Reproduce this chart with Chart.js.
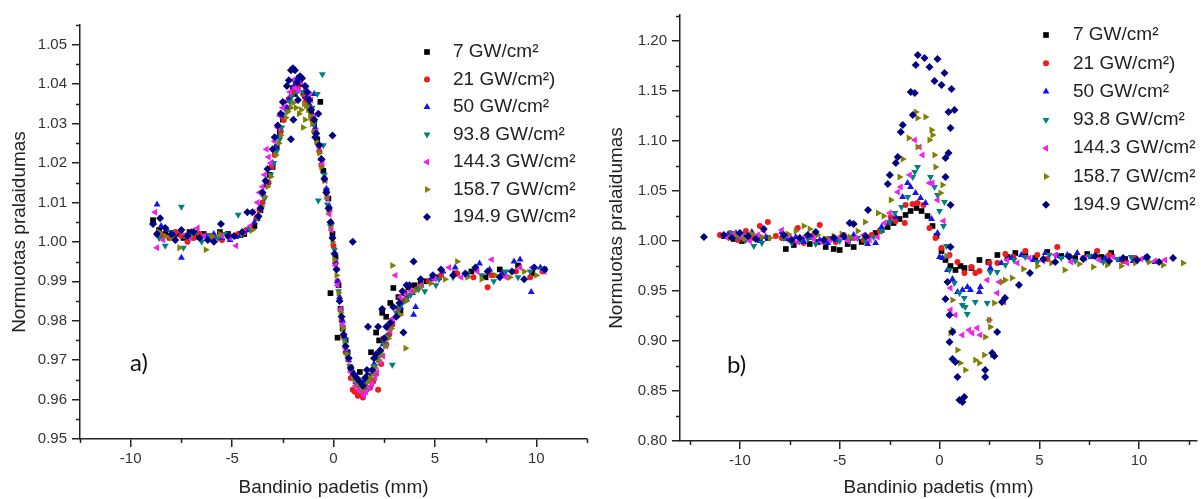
<!DOCTYPE html>
<html>
<head>
<meta charset="utf-8">
<script src="https://cdn.jsdelivr.net/npm/chart.js@4.4.0/dist/chart.umd.min.js"></script>
<style>
html, body { margin: 0; padding: 0; background: #fff; overflow: hidden; }
#wrapA { position: absolute; left: 0; top: 0; width: 600px; height: 499px; }
#wrapB { position: absolute; left: 600px; top: 0; width: 601px; height: 499px; }
</style>
</head>
<body>
<div id="wrapA"><canvas id="chartA" width="600" height="499"></canvas></div>
<div id="wrapB"><canvas id="chartB" width="601" height="499"></canvas></div>
<script>
// serijos (intensyvumai)
const seriesLabels = ['7 GW/cm²', '21 GW/cm²)', '50 GW/cm²', '93.8 GW/cm²', '144.3 GW/cm²', '158.7 GW/cm²', '194.9 GW/cm²'];
const seriesColors = ['#000000', '#ee1c1c', '#1414f0', '#008080', '#f020f0', '#808000', '#000080'];
const seriesShapes = ['rect', 'circle', 'triangle', 'triangle', 'triangle', 'triangle', 'rectRot'];
const seriesRotation = [0, 0, 0, 180, 270, 90, 0];
const seriesRadius = [4, 3, 4, 4, 4, 4, 4];

// asiu padalos
const xTicks = [-10, -5, 0, 5, 10];
const xMinor = [-12.5, -7.5, -2.5, 2.5, 7.5, 12.5];
const yTicksA = [0.95, 0.96, 0.97, 0.98, 0.99, 1.00, 1.01, 1.02, 1.03, 1.04, 1.05];
const yMinorA = [0.955, 0.965, 0.975, 0.985, 0.995, 1.005, 1.015, 1.025, 1.035, 1.045, 1.055];
const yTicksB = [0.80, 0.85, 0.90, 0.95, 1.00, 1.05, 1.10, 1.15, 1.20];
const yMinorB = [0.825, 0.875, 0.925, 0.975, 1.025, 1.075, 1.125, 1.175, 1.225];

// a) grafikas
const a7 = [[-8.9,1.0055],[-8.6,1.003],[-8.3,1.002],[-8.0,1.0015],[-7.7,1.002],[-7.4,1.001],[-7.1,1.0025],[-6.8,1.0015],[-6.4,1.002],[-6.0,1.0015],[-5.6,1.0025],[-5.2,1.002],[-4.8,1.0015],[-4.4,1.002],[-3.9,1.004],[-3.75,1.006],[-3.6,1.008],[-3.3,1.0145],[-3.15,1.017],[-3.0,1.019],[-2.8,1.024],[-2.65,1.028],[-2.5,1.031],[-2.2,1.036],[-2.0,1.039],[-1.9,1.0375],[-1.7,1.040],[-1.4,1.037],[-1.25,1.036],[-1.1,1.033],[-0.95,1.030],[-0.65,1.0355],[-0.8,1.026],[-0.5,1.018],[-0.35,1.013],[-0.25,1.011],[-0.15,0.987],[-0.05,1.002],[0.1,0.996],[0.2,0.9757],[0.25,0.989],[0.35,0.983],[0.45,0.978],[0.6,0.975],[0.7,0.972],[0.85,0.968],[1.0,0.966],[1.15,0.964],[1.3,0.967],[1.55,0.964],[1.7,0.966],[1.85,0.972],[2.1,0.977],[2.25,0.975],[2.4,0.982],[2.6,0.981],[2.8,0.9845],[2.95,0.9883],[3.2,0.986],[3.3,0.9825],[3.5,0.987],[3.7,0.9885],[4.0,0.989],[4.3,0.9895],[4.6,0.990],[5.2,0.991],[6.0,0.992],[6.8,0.9925],[7.5,0.991],[8.2,0.993],[9.1,0.994],[9.8,0.992],[10.4,0.993]];
const a21 = [[-8.7,1.002],[-8.4,1.0015],[-8.1,1.001],[-7.8,1.0025],[-7.5,1.0015],[-7.2,1.000],[-6.9,1.001],[-6.6,1.002],[-6.2,1.0015],[-5.9,1.001],[-5.5,1.0005],[-5.1,1.0015],[-4.7,1.002],[-4.3,1.003],[-3.8,1.006],[-3.65,1.008],[-3.5,1.010],[-3.2,1.015],[-3.05,1.019],[-2.9,1.022],[-2.6,1.028],[-2.45,1.031],[-2.3,1.034],[-2.15,1.0365],[-2.0,1.038],[-1.75,1.039],[-1.5,1.0375],[-1.35,1.036],[-1.2,1.034],[-1.05,1.031],[-0.95,1.028],[-0.7,1.023],[-0.6,1.0195],[-0.45,1.016],[-0.35,1.0125],[-0.2,1.008],[0.0,0.999],[0.1,0.9945],[0.2,0.990],[0.4,0.980],[0.5,0.976],[0.6,0.972],[0.85,0.9655],[0.95,0.9625],[1.05,0.962],[1.2,0.961],[1.3,0.9615],[1.45,0.9605],[1.55,0.962],[1.8,0.963],[1.95,0.9645],[2.1,0.9665],[2.2,0.9625],[2.35,0.969],[2.45,0.9755],[2.6,0.974],[2.75,0.9765],[2.9,0.979],[3.2,0.983],[3.4,0.985],[3.6,0.986],[4.1,0.988],[4.7,0.990],[5.3,0.9915],[6.1,0.992],[6.9,0.991],[7.6,0.9885],[7.8,0.9915],[8.4,0.992],[9.0,0.9925],[9.7,0.991],[10.3,0.9925]];
const a50 = [[-8.7,1.0095],[-8.5,1.004],[-8.2,1.003],[-7.9,1.002],[-7.5,0.996],[-7.3,1.0015],[-7.0,1.0025],[-6.6,1.001],[-6.3,1.0015],[-5.9,1.002],[-5.5,1.001],[-5.1,1.0005],[-4.6,1.0015],[-4.2,1.003],[-3.9,1.005],[-3.6,1.009],[-3.45,1.012],[-3.3,1.015],[-3.0,1.020],[-2.85,1.024],[-2.7,1.027],[-2.45,1.032],[-2.3,1.034],[-2.2,1.036],[-1.95,1.0395],[-1.8,1.0415],[-1.7,1.0405],[-1.45,1.038],[-1.3,1.0365],[-1.2,1.035],[-1.05,1.032],[-0.95,1.0375],[-0.9,1.029],[-0.75,1.025],[-0.6,1.021],[-0.35,1.0135],[-0.2,1.009],[-0.1,1.005],[0.1,0.995],[0.2,0.990],[0.3,0.986],[0.45,0.980],[0.55,0.976],[0.65,0.9725],[0.75,0.970],[1.0,0.9655],[1.1,0.9645],[1.25,0.9635],[1.5,0.9645],[1.6,0.9625],[1.75,0.966],[2.0,0.969],[2.15,0.9705],[2.3,0.972],[2.45,0.974],[2.6,0.976],[2.75,0.978],[2.9,0.980],[3.3,0.9835],[3.6,0.9855],[3.95,0.9815],[4.05,0.9835],[3.9,0.987],[4.3,0.989],[4.8,0.9905],[5.4,0.9925],[6.0,0.9935],[6.6,0.9915],[7.2,0.9945],[7.7,0.993],[8.3,0.992],[8.9,0.995],[9.2,0.9955],[9.75,0.9873],[10.2,0.9935]];
const a93 = [[-8.6,1.001],[-8.3,0.999],[-8.0,1.0025],[-7.5,1.0089],[-7.4,0.9985],[-7.1,1.001],[-6.8,1.0025],[-6.5,1.000],[-6.1,1.0015],[-5.7,1.001],[-5.3,1.002],[-4.9,1.0015],[-4.7,1.0069],[-4.1,1.003],[-3.7,1.006],[-3.55,1.0085],[-3.4,1.011],[-3.1,1.017],[-2.95,1.020],[-2.8,1.023],[-2.65,1.026],[-2.55,1.029],[-2.3,1.033],[-2.15,1.0355],[-2.05,1.037],[-1.8,1.038],[-1.5,1.038],[-1.35,1.039],[-1.2,1.0375],[-1.05,1.034],[-0.8,1.0375],[-0.55,1.0425],[-0.95,1.030],[-0.7,1.0245],[-0.5,1.0245],[-0.55,1.0205],[-0.45,1.017],[-0.75,1.0105],[-0.3,1.0095],[-0.15,1.004],[0.05,0.998],[0.15,0.993],[0.25,0.9875],[0.35,0.9825],[0.45,0.9785],[0.55,0.975],[0.65,0.9715],[0.8,0.9685],[0.9,0.967],[1.05,0.9655],[1.15,0.964],[1.3,0.9635],[1.4,0.963],[1.55,0.964],[1.7,0.965],[1.95,0.967],[2.05,0.9685],[2.2,0.9705],[2.35,0.972],[2.5,0.974],[2.65,0.976],[2.9,0.9688],[2.8,0.978],[3.1,0.982],[3.25,0.9835],[3.4,0.9845],[3.6,0.9855],[3.8,0.9865],[4.2,0.988],[4.5,0.9875],[5.05,0.989],[5.2,0.9905],[5.9,0.991],[6.6,0.992],[7.3,0.9915],[7.9,0.990],[8.5,0.9925],[9.1,0.991],[9.7,0.9925],[10.3,0.993]];
const a144 = [[-8.8,1.0075],[-8.7,0.9985],[-8.4,1.0005],[-8.1,1.0015],[-7.8,1.0005],[-7.5,1.0025],[-7.1,1.001],[-6.7,1.0035],[-6.4,1.0015],[-6.0,1.001],[-5.5,1.0015],[-5.1,1.001],[-4.8,0.999],[-4.4,1.0025],[-4.1,1.004],[-3.95,1.0075],[-3.75,1.010],[-3.65,1.0125],[-3.5,1.014],[-3.4,1.017],[-3.3,1.0235],[-3.2,1.0215],[-3.1,1.020],[-2.9,1.0255],[-2.75,1.029],[-2.65,1.032],[-2.5,1.034],[-2.4,1.0355],[-2.15,1.038],[-2.0,1.041],[-1.9,1.039],[-1.75,1.0385],[-1.6,1.0405],[-1.35,1.039],[-1.2,1.0375],[-1.1,1.036],[-0.95,1.032],[-0.85,1.028],[-0.7,1.024],[-0.55,1.020],[-0.4,1.0155],[-0.3,1.011],[-0.2,1.007],[-0.1,1.003],[0.1,0.994],[0.2,0.989],[0.35,0.983],[0.45,0.979],[0.6,0.973],[0.75,0.970],[0.85,0.967],[1.0,0.965],[1.1,0.9635],[1.25,0.9625],[1.35,0.962],[1.5,0.961],[1.6,0.962],[1.75,0.963],[1.9,0.964],[2.05,0.9655],[2.15,0.967],[2.3,0.9695],[2.45,0.971],[2.6,0.9735],[2.8,0.9775],[2.9,0.9805],[3.05,0.9915],[3.3,0.986],[3.5,0.987],[3.8,0.9875],[4.3,0.989],[5.0,0.9905],[5.7,0.9935],[6.3,0.991],[7.1,0.9925],[7.8,0.9955],[8.5,0.991],[9.2,0.9935],[9.8,0.9935],[10.4,0.9925]];
const a158 = [[-8.6,1.0025],[-8.3,1.0015],[-8.0,1.001],[-7.6,0.9985],[-7.3,1.0015],[-6.9,1.002],[-6.3,0.998],[-6.0,1.0015],[-5.6,1.002],[-5.2,1.0015],[-4.5,1.002],[-4.0,1.003],[-3.7,1.0065],[-3.55,1.009],[-3.4,1.0115],[-3.25,1.014],[-3.1,1.0165],[-2.85,1.022],[-2.7,1.025],[-2.6,1.027],[-2.35,1.0315],[-2.25,1.033],[-2.1,1.034],[-1.98,1.0353],[-1.85,1.034],[-1.7,1.0325],[-1.6,1.0335],[-1.5,1.029],[-1.45,1.035],[-1.4,1.031],[-1.35,1.0345],[-1.25,1.0335],[-1.15,1.032],[-1.05,1.030],[-0.95,1.028],[-0.85,1.0255],[-0.7,1.0225],[-0.6,1.019],[-0.45,1.0155],[-0.35,1.0115],[-0.25,1.008],[-0.15,1.004],[-0.05,1.000],[0.05,0.9955],[0.15,0.9915],[0.25,0.987],[0.35,0.982],[0.45,0.978],[0.55,0.9745],[0.65,0.9715],[0.8,0.9685],[0.95,0.966],[1.05,0.965],[1.2,0.964],[1.3,0.9635],[1.45,0.9625],[1.55,0.9635],[1.7,0.9645],[1.8,0.9655],[1.95,0.9665],[2.05,0.968],[2.2,0.970],[2.35,0.9715],[2.55,0.9735],[2.7,0.9755],[2.85,0.978],[2.9,0.994],[3.1,0.981],[3.55,0.973],[3.3,0.9815],[3.6,0.985],[4.0,0.9875],[4.3,0.9885],[4.8,0.9895],[5.5,0.9905],[6.1,0.995],[6.6,0.991],[7.3,0.9905],[8.0,0.9915],[8.7,0.991],[9.4,0.9925],[10.0,0.9915]];
const a194 = [[-8.9,1.0045],[-8.7,1.002],[-8.55,1.006],[-8.3,1.0035],[-8.0,1.002],[-7.8,1.0005],[-7.5,1.003],[-7.2,1.0015],[-6.9,1.0025],[-6.6,1.001],[-6.2,1.0005],[-5.9,1.000],[-5.55,1.0045],[-5.2,1.0015],[-4.9,1.0015],[-4.5,1.0025],[-4.25,1.0075],[-4.0,1.0075],[-3.7,1.0065],[-3.6,1.0085],[-3.5,1.0125],[-3.35,1.0155],[-3.25,1.0185],[-3.0,1.0235],[-2.9,1.0265],[-2.75,1.0295],[-2.6,1.0325],[-2.5,1.0355],[-2.3,1.0395],[-2.2,1.041],[-2.1,1.0435],[-2.0,1.044],[-1.9,1.0435],[-1.8,1.0405],[-1.65,1.042],[-1.55,1.0415],[-1.4,1.0395],[-1.3,1.038],[-1.75,1.036],[-2.1,1.026],[-1.98,1.031],[-1.2,1.036],[-1.1,1.0335],[-0.95,1.031],[-0.9,1.0265],[-0.75,1.0325],[-0.85,1.0275],[-0.7,1.0245],[-0.6,1.021],[-0.05,1.027],[-0.45,1.016],[-0.35,1.0125],[-0.25,1.0085],[-0.15,1.005],[-0.05,1.001],[0.05,0.997],[0.15,0.993],[0.3,0.985],[0.4,0.981],[0.5,0.9765],[0.6,0.9735],[0.75,0.9705],[0.85,0.968],[0.95,1.000],[1.0,0.9665],[1.15,0.9655],[1.3,0.9645],[1.45,0.9635],[1.55,0.9655],[1.65,0.9675],[1.7,0.9785],[2.2,0.9785],[1.9,0.9675],[2.0,0.9705],[2.1,0.9715],[2.3,0.9725],[2.4,0.983],[2.5,0.9755],[2.6,0.9785],[2.8,0.9795],[2.95,0.9835],[3.1,0.981],[3.25,0.9845],[3.45,0.977],[3.4,0.9875],[3.6,0.989],[3.75,0.989],[3.95,0.995],[4.3,0.9905],[4.9,0.9915],[5.3,0.993],[5.9,0.9915],[6.5,0.992],[7.0,0.9935],[7.6,0.9925],[8.2,0.991],[8.8,0.9925],[9.4,0.9905],[9.9,0.9935],[10.4,0.993]];

// b) grafikas
const b7 = [[-10.8,1.005],[-10.3,1.002],[-9.9,1.000],[-9.5,1.004],[-9.0,1.001],[-8.6,1.003],[-7.7,0.992],[-7.3,0.996],[-6.9,1.001],[-6.5,0.997],[-6.1,0.999],[-5.7,0.994],[-5.3,0.992],[-5.0,0.991],[-4.6,0.997],[-4.3,0.994],[-3.9,0.999],[-3.6,1.002],[-3.2,1.008],[-2.9,1.011],[-2.6,1.014],[-2.3,1.018],[-2.0,1.022],[-1.7,1.026],[-1.45,1.030],[-1.15,1.033],[-0.9,1.030],[-0.6,1.025],[-0.35,1.015],[-0.15,1.005],[0.1,0.990],[0.3,0.981],[0.55,0.975],[0.8,0.971],[1.05,0.975],[1.25,0.973],[1.6,0.973],[2.0,0.981],[2.45,0.979],[2.9,0.986],[3.4,0.984],[3.8,0.988],[4.3,0.986],[4.8,0.983],[5.4,0.989],[6.1,0.985],[6.8,0.983],[7.4,0.987],[8.1,0.984],[8.6,0.988],[9.3,0.982]];
const b21 = [[-11.0,1.006],[-10.5,1.008],[-10.1,1.001],[-9.7,1.010],[-9.3,1.003],[-9.0,1.015],[-8.6,1.019],[-8.2,1.005],[-7.9,1.003],[-7.5,1.001],[-7.1,1.013],[-6.8,0.998],[-6.4,1.005],[-6.0,1.016],[-5.6,1.002],[-5.2,0.999],[-4.8,1.006],[-4.3,1.003],[-3.8,1.001],[-3.4,1.006],[-3.0,1.010],[-2.44,1.024],[-2.2,1.020],[-1.74,1.018],[-1.7,1.036],[-1.35,1.037],[-1.1,1.038],[-0.8,1.036],[-0.5,1.013],[-0.2,1.003],[0.1,0.993],[0.5,0.986],[0.9,0.979],[1.25,0.968],[1.6,0.974],[1.8,0.968],[2.0,0.970],[2.5,0.978],[2.9,0.978],[3.3,0.987],[3.7,0.984],[4.3,0.990],[4.9,0.986],[5.4,0.982],[5.9,0.994],[6.5,0.985],[7.2,0.983],[7.9,0.990],[8.5,0.986],[9.2,0.980],[9.8,0.983]];
const b50 = [[-10.6,1.006],[-10.2,1.008],[-9.8,1.004],[-9.4,1.009],[-9.0,1.001],[-8.7,1.004],[-7.9,1.009],[-7.6,1.002],[-7.2,1.004],[-6.8,0.999],[-6.4,1.003],[-6.0,1.001],[-5.6,0.998],[-5.1,1.001],[-4.7,1.003],[-4.3,1.006],[-3.6,0.997],[-3.2,0.998],[-2.9,1.014],[-2.5,1.019],[-2.2,1.024],[-1.85,1.044],[-1.6,1.058],[-1.45,1.054],[-1.2,1.048],[-0.95,1.043],[-0.7,1.038],[-0.4,1.022],[-0.1,1.008],[0.0,0.984],[0.15,0.983],[0.4,0.971],[0.65,0.962],[0.9,0.949],[1.15,0.951],[1.4,0.954],[1.55,0.951],[2.0,0.949],[2.05,0.954],[2.55,0.973],[3.1,0.978],[3.6,0.983],[4.1,0.986],[4.7,0.981],[5.3,0.988],[5.9,0.985],[6.4,0.986],[6.9,0.988],[7.6,0.984],[8.3,0.983],[9.0,0.981],[9.7,0.980],[10.3,0.983],[10.8,0.979]];
const b93 = [[-10.4,1.008],[-10.1,1.004],[-9.7,1.001],[-9.3,0.995],[-8.9,0.998],[-7.8,1.003],[-7.4,0.998],[-7.0,1.000],[-6.6,1.002],[-6.2,0.997],[-5.8,0.999],[-5.4,1.003],[-5.0,1.000],[-4.5,1.001],[-4.1,1.003],[-3.7,1.000],[-3.3,1.004],[-2.9,1.010],[-2.5,1.019],[-2.24,1.028],[-1.9,1.034],[-1.59,1.044],[-1.34,1.064],[-1.24,1.069],[-1.1,1.074],[-0.45,1.064],[-0.25,1.054],[-0.1,1.046],[0.0,1.030],[0.25,1.039],[0.2,1.015],[0.35,0.995],[0.5,0.971],[0.75,0.958],[1.0,0.948],[1.14,0.936],[1.24,0.943],[1.29,0.934],[1.39,0.927],[1.79,0.939],[2.39,0.938],[2.54,0.969],[2.89,0.969],[3.3,0.976],[3.73,0.981],[4.3,0.984],[4.9,0.979],[5.5,0.986],[6.1,0.983],[6.8,0.980],[7.5,0.985],[8.2,0.979],[8.9,0.982],[9.6,0.984],[10.4,0.981]];
const b144 = [[-10.7,1.004],[-10.3,1.007],[-9.9,1.003],[-9.5,1.000],[-9.1,1.006],[-8.8,1.010],[-7.9,1.011],[-7.5,1.004],[-7.1,0.999],[-6.7,1.005],[-6.3,1.002],[-5.9,0.999],[-5.5,1.001],[-5.0,1.004],[-4.6,1.000],[-4.2,1.003],[-3.8,1.006],[-3.5,1.001],[-3.1,1.004],[-2.75,1.018],[-2.49,1.028],[-2.09,1.049],[-1.94,1.054],[-1.49,1.066],[-1.24,1.101],[-1.0,1.094],[-0.85,1.086],[-0.5,1.058],[-0.35,1.058],[-0.1,1.041],[0.2,1.020],[0.4,0.985],[0.55,0.953],[0.55,0.931],[0.8,0.926],[1.14,0.906],[1.49,0.911],[1.64,0.908],[1.89,0.913],[2.04,0.906],[2.39,0.961],[2.49,0.921],[2.89,0.948],[2.99,0.959],[3.23,0.939],[3.38,0.981],[3.9,0.978],[4.5,0.983],[5.2,0.980],[5.8,0.986],[6.6,0.979],[7.3,0.983],[8.0,0.981],[8.7,0.984],[9.4,0.978],[10.1,0.982],[10.8,0.980],[11.3,0.981]];
const b158 = [[-10.5,1.003],[-10.2,1.005],[-9.8,1.002],[-9.4,1.007],[-8.9,1.004],[-8.5,1.003],[-7.6,1.007],[-7.2,1.010],[-6.8,1.015],[-6.5,1.012],[-6.1,1.006],[-5.7,1.002],[-5.3,1.005],[-4.9,1.007],[-4.5,1.004],[-4.1,1.010],[-3.73,1.019],[-3.08,1.028],[-2.8,1.025],[-2.44,1.041],[-2.0,1.064],[-1.84,1.082],[-1.54,1.103],[-1.19,1.129],[-1.1,1.123],[-1.1,1.094],[-0.7,1.124],[-0.5,1.101],[-0.4,1.111],[-0.35,1.106],[-0.25,1.086],[-0.2,1.074],[0.05,1.048],[0.15,1.056],[0.35,0.985],[0.55,0.908],[0.65,0.911],[0.65,0.941],[0.9,0.891],[1.04,0.878],[1.29,0.871],[1.79,0.881],[1.99,0.878],[2.24,0.886],[2.29,0.904],[2.49,0.921],[2.54,0.914],[2.64,0.886],[2.74,0.938],[3.13,0.959],[3.28,0.961],[3.63,0.963],[4.2,0.972],[4.9,0.975],[5.6,0.978],[6.27,0.971],[7.0,0.977],[7.7,0.974],[8.4,0.976],[9.1,0.975],[9.8,0.978],[10.5,0.979],[11.2,0.976],[12.2,0.978]];
const b194 = [[-11.8,1.004],[-10.8,1.006],[-10.4,1.003],[-10.0,1.008],[-9.6,1.005],[-9.2,1.002],[-8.8,1.012],[-7.8,1.006],[-7.4,1.001],[-7.0,1.003],[-6.6,1.006],[-6.2,1.009],[-5.8,1.001],[-5.3,1.003],[-4.8,1.005],[-4.5,1.018],[-4.3,1.017],[-3.7,1.005],[-3.58,1.031],[-2.59,1.057],[-2.49,1.066],[-2.19,1.078],[-2.09,1.084],[-1.94,1.109],[-1.84,1.116],[-1.44,1.149],[-1.24,1.148],[-1.34,1.126],[-1.19,1.176],[-1.09,1.186],[-0.75,1.183],[-0.5,1.174],[-0.25,1.160],[-0.1,1.182],[0.1,1.156],[0.25,1.168],[0.3,1.083],[0.3,1.064],[0.45,1.129],[0.45,1.088],[0.55,1.113],[0.55,1.036],[0.6,1.152],[0.75,1.131],[0.3,0.942],[0.4,0.959],[0.5,0.926],[0.5,0.899],[0.55,0.994],[0.65,0.909],[0.65,0.882],[0.8,0.879],[0.9,0.864],[1.0,0.841],[1.15,0.839],[1.24,0.844],[2.29,0.871],[2.29,0.864],[2.64,0.888],[2.75,0.885],[2.89,0.909],[3.13,0.939],[3.28,0.943],[3.98,0.956],[4.53,0.968],[5.2,0.982],[5.8,0.979],[6.5,0.984],[7.2,0.982],[7.8,0.985],[8.5,0.980],[9.2,0.983],[9.9,0.981],[10.4,0.984],[11.0,0.979],[11.7,0.983]];

const seriesA = [a7, a21, a50, a93, a144, a158, a194];
const seriesB = [b7, b21, b50, b93, b144, b158, b194];

Chart.defaults.font.family = '"Liberation Sans", Arial, sans-serif';
Chart.defaults.color = '#222';

// smulkios padalos
const minorTicks = {
  id: 'minorTicks',
  afterDraw(chart, args, o) {
    const ctx = chart.ctx;
    const sx = chart.scales.x, sy = chart.scales.y;
    ctx.save();
    ctx.strokeStyle = '#222';
    ctx.lineWidth = 1.5;
    ctx.beginPath();
    o.xMinor.forEach(v => {
      const px = Math.round(sx.getPixelForValue(v)) + 0.5;
      if (px > chart.width) return;
      ctx.moveTo(px, sx.top);
      ctx.lineTo(px, sx.top + 4);
    });
    o.yMinor.forEach(v => {
      const py = Math.round(sy.getPixelForValue(v)) + 0.5;
      ctx.moveTo(sy.right, py);
      ctx.lineTo(sy.right - 4, py);
    });
    ctx.stroke();
    ctx.restore();
  }
};

// legenda ir raide
const legendBox = {
  id: 'legendBox',
  afterDraw(chart, args, o) {
    const ctx = chart.ctx;
    ctx.save();
    ctx.textBaseline = 'middle';
    ctx.font = '19px "Liberation Sans", Arial, sans-serif';
    seriesLabels.forEach((lab, i) => {
      const y = o.y + i * o.dy;
      ctx.fillStyle = seriesColors[i];
      Chart.helpers.drawPoint(ctx, {
        pointStyle: seriesShapes[i],
        radius: seriesRadius[i],
        rotation: seriesRotation[i],
        borderWidth: 0
      }, o.markX, y);
      ctx.fillStyle = '#222';
      ctx.fillText(lab, o.textX, y);
    });
    ctx.textBaseline = 'alphabetic';
    ctx.font = '24px Lato, "Open Sans", sans-serif';
    ctx.fillStyle = '#111';
    ctx.fillText(o.tag, o.tagX, o.tagY);
    ctx.restore();
  }
};

function makeDatasets(series) {
  return series.map((pts, i) => ({
    label: seriesLabels[i],
    data: pts.map(p => ({ x: p[0], y: p[1] })),
    backgroundColor: seriesColors[i],
    borderColor: seriesColors[i],
    pointStyle: seriesShapes[i],
    rotation: seriesRotation[i],
    pointRadius: seriesRadius[i],
    pointBorderWidth: 0,
    order: 6 - i
  }));
}

function makeChart(canvasId, series, cfg) {
  const ctx = document.getElementById(canvasId).getContext('2d');
  return new Chart(ctx, {
    type: 'scatter',
    data: { datasets: makeDatasets(series) },
    options: {
      responsive: false,
      animation: false,
      events: [],
      layout: { padding: cfg.padding },
      plugins: {
        legend: { display: false },
        tooltip: { enabled: false },
        minorTicks: { xMinor: xMinor, yMinor: cfg.yMinor },
        legendBox: cfg.legend
      },
      scales: {
        x: {
          type: 'linear',
          min: cfg.xMin,
          max: cfg.xMax,
          afterFit: s => { s.height = cfg.xAxisH; },
          afterBuildTicks: s => { s.ticks = xTicks.map(v => ({ value: v })); },
          ticks: { padding: 3, font: { size: 15 }, color: '#333', callback: v => String(v) },
          grid: { drawOnChartArea: false, drawTicks: true, tickLength: 8, color: '#222', lineWidth: 1.5 },
          border: { display: true, color: '#222', width: 1.5 },
          title: { display: true, text: 'Bandinio padetis (mm)', font: { size: 19 }, color: '#222', padding: { top: 0, bottom: 0 } }
        },
        y: {
          type: 'linear',
          min: cfg.yMin,
          max: cfg.yMax,
          afterFit: s => { s.width = 80; },
          afterBuildTicks: s => { s.ticks = cfg.yTicks.map(v => ({ value: v })); },
          ticks: { padding: 5, font: { size: 15 }, color: '#333', callback: v => v.toFixed(2) },
          grid: { drawOnChartArea: false, drawTicks: true, tickLength: 8, color: '#222', lineWidth: 1.5 },
          border: { display: true, color: '#222', width: 1.5 },
          title: { display: true, text: 'Normuotas pralaidumas', font: { size: 19 }, color: '#222', padding: { top: cfg.yTitlePad, bottom: 0 } }
        }
      }
    },
    plugins: [minorTicks, legendBox]
  });
}

makeChart('chartA', seriesA, {
  padding: { left: 0, top: 25, right: 13, bottom: 0 },
  xMin: -12.5, xMax: 12.5, xAxisH: 60,
  yMin: 0.95, yMax: 1.055, yTicks: yTicksA, yMinor: yMinorA, yTitlePad: 8,
  legend: { markX: 427, textX: 453, y: 52, dy: 27.5, tag: 'a)', tagX: 130, tagY: 371 }
});

makeChart('chartB', seriesB, {
  padding: { left: 0, top: 15, right: 0, bottom: 0 },
  xMin: -13, xMax: 12.9, xAxisH: 58,
  yMin: 0.80, yMax: 1.226, yTicks: yTicksB, yMinor: yMinorB, yTitlePad: 5,
  legend: { markX: 446, textX: 473, y: 35, dy: 28.3, tag: 'b)', tagX: 127, tagY: 373 }
});
</script>
</body>
</html>
